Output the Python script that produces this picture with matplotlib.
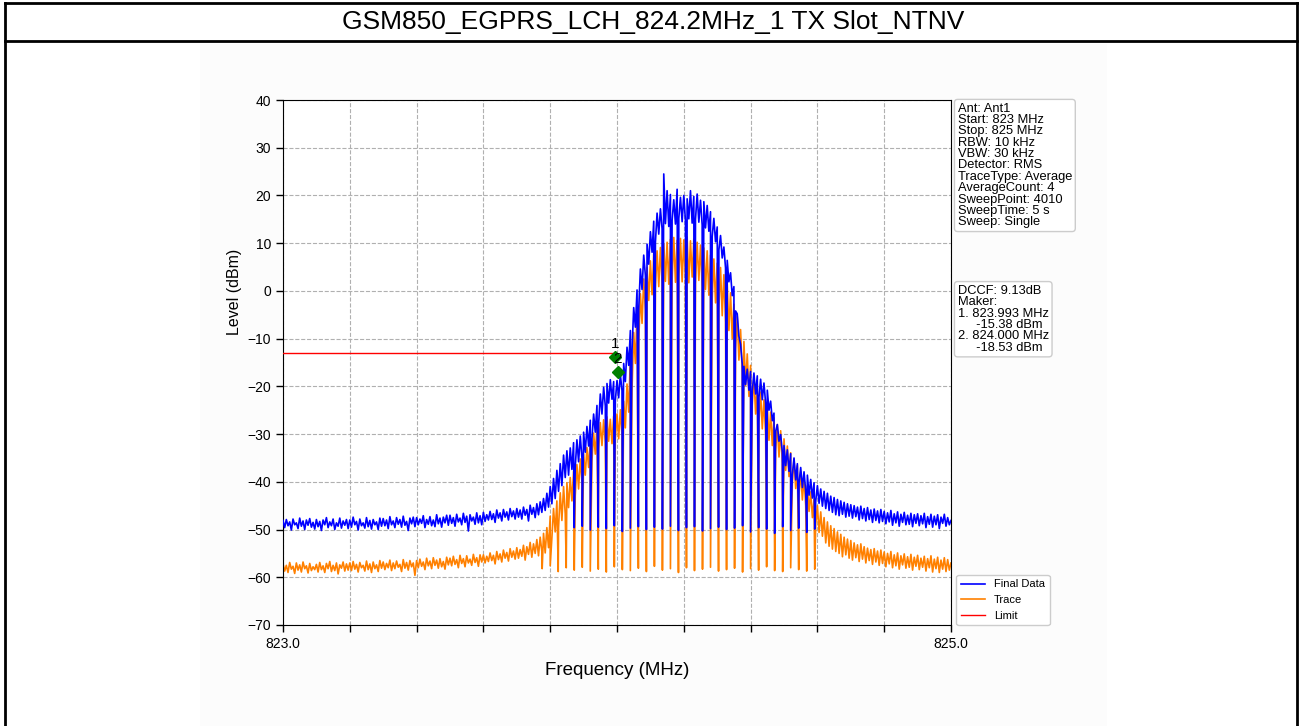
import numpy as np
import matplotlib
matplotlib.use("Agg")
import matplotlib.pyplot as plt
from matplotlib.lines import Line2D
from matplotlib.patches import Rectangle

plt.rcParams["font.family"] = ["Liberation Sans", "DejaVu Sans"]

title = "GSM850_EGPRS_LCH_824.2MHz_1 TX Slot_NTNV"

# sweep 823..825 MHz, levels every 5 kHz
start_mhz = 823.0
stop_mhz = 825.0

final_data_dbm = [
    -48.1, -49.6, -47.9, -49.2, -48.4, -50.1, -47.8, -49.0, -48.6, -49.8, -47.6, -49.3, -48.2, -50.0, -48.0, -49.1, -47.7, -49.5, -48.5, -49.9,  # 823.0
    -47.9, -49.4, -48.3, -50.2, -48.0, -49.0, -47.5, -49.6, -48.4, -49.2, -47.8, -50.0, -48.6, -49.3, -47.6, -49.7, -48.2, -49.1, -47.9, -49.8,  # 823.1
    -48.0, -49.5, -47.4, -49.0, -48.3, -50.1, -47.8, -49.2, -48.6, -49.7, -47.5, -49.4, -48.1, -49.9, -47.9, -49.0, -48.4, -50.0, -47.6, -49.3,  # 823.2
    -47.7, -49.2, -48.0, -49.8, -47.3, -49.0, -48.2, -49.6, -47.5, -48.9, -47.9, -49.5, -47.2, -49.1, -48.3, -50.2, -47.6, -48.8, -47.4, -49.4,  # 823.3
    -47.5, -49.0, -47.8, -48.7, -47.1, -49.6, -47.9, -48.9, -47.3, -49.2, -48.0, -49.4, -46.9, -48.8, -47.6, -49.5, -47.4, -48.6, -47.0, -49.1,  # 823.4
    -47.0, -48.7, -47.5, -49.3, -46.8, -48.4, -47.6, -49.0, -46.6, -48.5, -47.2, -50.3, -46.9, -48.2, -47.4, -48.9, -46.5, -48.6, -47.1, -49.0,  # 823.5
    -46.4, -48.3, -46.9, -48.0, -46.2, -47.9, -46.7, -48.5, -45.9, -47.6, -46.5, -48.2, -45.8, -47.4, -46.3, -48.0, -45.6, -47.3, -46.1, -47.8,  # 823.6
    -45.6, -47.4, -45.9, -47.8, -45.3, -47.0, -45.8, -48.2, -44.9, -46.8, -45.4, -47.5, -44.6, -46.9, -44.2, -46.4, -43.5, -46.0, -42.4, -45.3,  # 823.7
    -41.0, -44.6, -39.3, -43.5, -37.6, -42.0, -36.2, -40.8, -34.4, -39.1, -33.5, -38.6, -32.9, -37.4, -31.8, -36.9, -31.2, -35.8, -30.4, -35.0,  # 823.8
    -29.6, -33.8, -28.4, -32.5, -27.1, -31.0, -25.8, -29.6, -24.0, -27.9, -21.6, -25.8, -20.2, -24.1, -19.4, -23.5, -18.6, -22.7, -19.0, -23.0,  # 823.9
    -18.8, -22.4, -17.5, -20.9, -15.2, -19.0, -11.8, -15.6, -8.3, -12.4, -3.5, -7.6, 0.2, -3.9, 4.6, 0.3, 7.5, 3.2, 9.8, 5.6,  # 824.0
    12.4, 8.1, 14.6, 10.2, 16.3, 11.9, 17.2, 13.0, 24.5, 14.1, 21.0, 13.5, 20.2, 14.8, 19.1, 14.0, 21.3, 15.2, 19.6, 14.5,  # 824.1
    20.0, 14.6, 19.3, 15.1, 21.0, 14.2, 19.8, 15.0, 20.3, 14.4, 19.0, 13.8, 18.7, 13.2, 17.9, 12.5, 16.6, 11.4, 15.2, 10.3,  # 824.2
    13.4, 8.6, 11.6, 6.9, 9.2, 4.8, 6.4, 1.9, 3.8, -1.0, 0.9, -4.2, -4.8, -9.5, -11.2, -15.3, -15.8, -19.6, -16.4, -20.8,  # 824.3
    -16.9, -21.0, -17.2, -21.6, -17.8, -22.3, -18.5, -22.8, -19.3, -23.6, -20.8, -25.0, -23.1, -27.2, -25.6, -29.4, -28.0, -31.5, -30.1, -33.8,  # 824.4
    -32.4, -36.6, -33.3, -37.8, -34.1, -38.5, -35.0, -39.6, -36.2, -40.3, -37.0, -41.2, -37.9, -42.0, -38.6, -42.8, -39.5, -43.4, -40.2, -44.0,  # 824.5
    -40.8, -44.5, -41.5, -45.1, -42.0, -45.6, -42.4, -46.0, -43.0, -46.4, -43.3, -46.9, -43.7, -47.1, -44.0, -46.8, -44.3, -47.4, -44.6, -47.2,  # 824.6
    -44.8, -47.6, -45.0, -47.3, -45.3, -48.0, -45.1, -47.7, -45.6, -48.2, -45.4, -47.9, -45.9, -48.5, -45.7, -48.1, -46.1, -48.6, -45.8, -48.3,  # 824.7
    -46.2, -48.8, -46.5, -48.4, -46.0, -49.1, -46.7, -48.6, -46.3, -49.3, -46.8, -48.5, -46.4, -49.0, -47.0, -48.9, -46.6, -49.4, -46.9, -48.7,  # 824.8
    -46.7, -49.2, -47.1, -48.8, -46.6, -49.6, -47.3, -48.9, -46.8, -49.5, -47.2, -49.0, -46.9, -49.8, -47.4, -48.7, -46.8, -49.3, -47.5, -49.0,  # 824.9
    -48.1,
]

trace_dbm = [
    -57.2, -58.7, -57.5, -59.0, -56.9, -58.3, -57.7, -59.2, -57.0, -58.5, -57.4, -58.9, -56.8, -58.2, -57.6, -59.1, -57.1, -58.6, -57.8, -58.4,  # 823.0
    -57.3, -58.9, -56.9, -58.4, -57.6, -59.0, -57.1, -58.2, -56.7, -58.8, -57.5, -58.6, -57.0, -59.3, -57.4, -58.1, -56.8, -58.7, -57.2, -58.5,  # 823.1
    -57.0, -58.6, -56.7, -58.3, -57.3, -58.9, -56.9, -58.0, -57.5, -58.7, -56.6, -58.4, -57.2, -59.0, -56.8, -58.2, -57.4, -58.8, -56.5, -58.1,  # 823.2
    -56.8, -58.4, -57.1, -58.0, -56.4, -58.6, -57.0, -58.2, -56.6, -57.9, -57.3, -58.8, -56.3, -58.1, -56.9, -58.5, -56.5, -57.8, -57.0, -59.6,  # 823.3
    -56.5, -58.0, -56.2, -57.7, -56.8, -58.4, -56.0, -57.6, -56.6, -58.2, -55.9, -57.5, -56.4, -58.1, -56.1, -57.8, -56.7, -58.3, -55.8, -57.4,  # 823.4
    -56.0, -57.6, -55.6, -57.3, -56.3, -58.0, -55.4, -57.1, -56.1, -57.8, -55.5, -57.0, -56.2, -57.5, -55.2, -56.9, -55.9, -57.7, -55.3, -56.8,  # 823.5
    -55.3, -57.0, -55.6, -56.7, -54.9, -56.5, -55.4, -57.2, -54.6, -56.3, -55.1, -56.8, -54.3, -56.0, -54.8, -56.6, -54.0, -55.8, -54.5, -56.2,  # 823.6
    -53.8, -56.0, -54.2, -55.6, -53.3, -56.4, -53.6, -55.2, -52.7, -55.8, -53.0, -55.0, -52.1, -55.5, -51.6, -54.6, -50.8, -54.9, -49.6, -53.8,  # 823.7
    -47.2, -51.8, -45.6, -50.5, -44.0, -49.6, -42.3, -48.1, -41.0, -46.7, -40.2, -45.4, -39.1, -44.0, -37.8, -42.9, -36.4, -41.5, -35.2, -40.0,  # 823.8
    -34.1, -38.6, -32.8, -37.0, -31.4, -35.6, -29.8, -34.2, -28.5, -33.1, -27.6, -32.4, -27.0, -31.8, -26.4, -31.5, -26.9, -32.0, -26.2, -31.2,  # 823.9
    -25.8, -31.0, -24.9, -30.3, -23.1, -28.7, -19.5, -25.4, -13.8, -20.6, -8.7, -15.2, -4.4, -10.9, -0.6, -6.8, 2.5, -4.1, 4.9, -2.0,  # 824.0
    6.3, -0.8, 7.8, 0.4, 8.4, 0.9, 9.1, 1.6, 9.9, 2.0, 10.2, 1.4, 10.8, 2.3, 11.2, 1.8, 10.6, 2.6, 11.0, 1.9,  # 824.1
    10.7, 2.4, 11.3, 1.7, 10.5, 2.9, 10.9, 1.5, 10.2, 2.2, 9.6, 0.8, 9.0, 0.3, 8.4, -0.9, 7.5, -1.6, 6.7, -2.5,  # 824.2
    5.8, -3.6, 4.9, -5.2, 3.4, -6.6, 1.6, -8.3, -0.4, -10.0, -2.8, -12.2, -5.4, -14.5, -8.1, -17.0, -10.6, -19.8, -13.2, -22.1,  # 824.3
    -15.6, -24.0, -17.9, -25.8, -19.6, -27.5, -21.2, -28.9, -22.8, -30.2, -24.1, -31.3, -25.4, -32.4, -26.6, -33.5, -28.0, -34.8, -29.3, -36.0,  # 824.4
    -31.0, -37.6, -32.5, -38.9, -33.9, -40.2, -35.2, -41.4, -36.6, -42.7, -37.9, -43.8, -39.3, -45.0, -40.8, -46.2, -42.1, -47.5, -43.6, -48.8,  # 824.5
    -45.0, -50.6, -46.3, -51.4, -47.5, -52.8, -48.4, -53.5, -49.2, -54.1, -49.8, -54.6, -50.5, -55.0, -51.0, -55.7, -51.6, -55.3, -52.0, -56.0,  # 824.6
    -52.3, -56.4, -52.8, -55.9, -53.2, -56.7, -53.0, -56.2, -53.6, -57.0, -53.9, -56.5, -54.2, -57.3, -54.0, -56.8, -54.5, -57.5, -54.3, -57.1,  # 824.7
    -54.7, -57.8, -55.0, -57.2, -54.6, -58.0, -55.3, -57.6, -54.9, -58.3, -55.5, -57.4, -55.1, -58.1, -55.7, -57.9, -55.2, -58.5, -55.8, -57.7,  # 824.8
    -55.4, -58.4, -56.0, -57.9, -55.6, -58.7, -56.1, -58.0, -55.5, -58.9, -56.2, -58.2, -55.8, -59.0, -56.4, -58.3, -55.9, -58.8, -56.3, -58.5,  # 824.9
    -57.0,
]

# burst gaps: narrow drops of both traces
final_dip_mhz = [
    823.872, 823.896, 823.920, 823.944, 823.968, 823.992, 824.016, 824.040,
    824.064, 824.088, 824.112, 824.136, 824.160, 824.184, 824.208, 824.232,
    824.256, 824.280, 824.304, 824.328, 824.352, 824.376, 824.400, 824.424,
    824.448, 824.472, 824.496, 824.520, 824.544, 824.568, 824.592,
]
final_dip_dbm = [
    -49.6, -49.3, -50.1, -49.5, -49.8, -49.2, -50.4, -49.7, -49.4, -50.0, -49.5,
    -49.9, -49.3, -50.2, -49.6, -49.4, -50.3, -49.8, -49.5, -50.0, -49.7, -49.2,
    -50.5, -49.6, -49.9, -50.8, -49.4, -50.2, -49.7, -50.6, -49.9,
]
trace_dip_mhz = [823.776, 823.800, 823.824, 823.848] + final_dip_mhz
trace_dip_dbm = [
    -58.2, -57.6, -58.8, -58.0, -58.5, -57.9, -58.7, -58.3, -58.9, -57.8, -58.4,
    -58.6, -58.1, -58.8, -57.7, -58.5, -58.2, -59.0, -58.0, -58.6, -58.3, -57.9,
    -58.7, -58.4, -58.1, -58.9, -58.2, -58.5, -57.8, -58.6, -58.8, -58.0, -58.4,
    -58.7, -58.3,
]

limit_dbm = -13.0
limit_stop_mhz = 823.993
marker_mhz = [823.994, 824.002]
marker_dbm = [-13.8, -16.9]
marker_names = ["1", "2"]

setup_text = ("Ant: Ant1\nStart: 823 MHz\nStop: 825 MHz\nRBW: 10 kHz\nVBW: 30 kHz\n"
              "Detector: RMS\nTraceType: Average\nAverageCount: 4\nSweepPoint: 4010\n"
              "SweepTime: 5 s\nSweep: Single")
maker_text = ("DCCF: 9.13dB\nMaker:\n1. 823.993 MHz\n     -15.38 dBm\n"
              "2. 824.000 MHz\n     -18.53 dBm")


def with_dips(levels, dip_mhz, dip_dbm):
    freqs = np.linspace(start_mhz, stop_mhz, len(levels))
    f = np.concatenate([freqs, np.array(dip_mhz)])
    v = np.concatenate([np.array(levels), np.array(dip_dbm)])
    order = np.argsort(f, kind="stable")
    return f[order], v[order]


W, H = 1306, 726
fig = plt.figure(figsize=(W / 100, H / 100), dpi=100)

# page frame + title row
fig.add_artist(Rectangle((200 / W, 0.0), 907 / W, 1 - 44 / H, transform=fig.transFigure,
                         facecolor="#fcfcfc", edgecolor="none", zorder=0))
for x0, y0, x1, y1 in [(5, 3, 1297, 3), (5, 41, 1297, 41), (5, 3, 5, 726),
                       (1297, 3, 1297, 726)]:
    fig.add_artist(Line2D([x0 / W, x1 / W], [1 - y0 / H, 1 - y1 / H],
                          transform=fig.transFigure, color="black", lw=2))
fig.text(0.5, 1 - 22 / H, title, ha="center", va="center", fontsize=19)

ax = fig.add_axes([283 / W, 1 - 625 / H, 668 / W, 525 / H])
ax.set_facecolor("white")

fb, lb = with_dips(final_data_dbm, final_dip_mhz, final_dip_dbm)
fo, lo = with_dips(trace_dbm, trace_dip_mhz, trace_dip_dbm)
h_final, = ax.plot(fb, lb, color="#0000ff", lw=1.2, label="Final Data", zorder=3)
h_trace, = ax.plot(fo, lo, color="#ff8000", lw=1.2, label="Trace", zorder=2)
h_limit, = ax.plot([start_mhz, limit_stop_mhz], [limit_dbm, limit_dbm], color="#ff0000",
                   lw=1.0, label="Limit", zorder=4)

ax.plot(marker_mhz, marker_dbm, "D", color="green", ms=6, zorder=5)
for f, v, name in zip(marker_mhz, marker_dbm, marker_names):
    ax.text(f, v + 1.2, name, ha="center", va="bottom", fontsize=11, zorder=6)

ax.set_xlim(start_mhz, stop_mhz)
ax.set_ylim(-70, 40)
xt = [823.0 + 0.2 * i for i in range(11)]
ax.set_xticks(xt)
ax.set_xticklabels(["823.0"] + [""] * 9 + ["825.0"])
ax.set_yticks(range(-70, 41, 10))
ax.tick_params(labelsize=10, length=5, width=1)
ax.grid(True, color="#b0b0b0", linestyle="--", linewidth=0.8)
ax.set_axisbelow(True)
ax.set_xlabel("Frequency (MHz)", fontsize=13.5, labelpad=8)
ax.set_ylabel("Level (dBm)", fontsize=11.5)
ax.yaxis.set_label_coords(-0.062, 0.634)

box = dict(boxstyle="round,pad=0.25", facecolor="white", edgecolor="#cccccc", lw=1)
ax.text(1.01, 0.995, setup_text, transform=ax.transAxes, ha="left", va="top",
        fontsize=9.3, linespacing=0.93, bbox=box)
ax.text(1.01, 0.648, maker_text, transform=ax.transAxes, ha="left", va="top",
        fontsize=9.3, linespacing=0.93, bbox=box)

ax.legend(handles=[h_final, h_trace, h_limit], loc="lower left", bbox_to_anchor=(1.008, 0.0),
          borderaxespad=0, fontsize=8, handlelength=2.2, framealpha=1, edgecolor="#cccccc")

fig.savefig("out.png", dpi=100)
